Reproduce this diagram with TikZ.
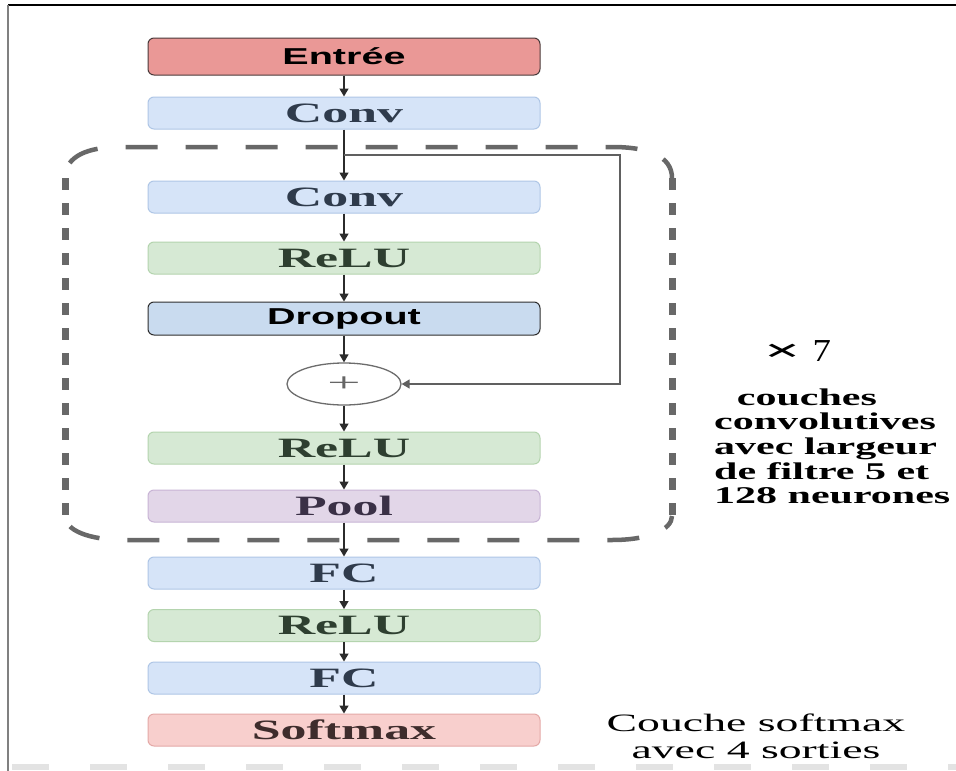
\documentclass[tikz,border=0pt]{standalone}
\usepackage{fontspec}
\setmainfont{Liberation Serif}
\newfontfamily\labelsans{Liberation Sans}
\usetikzlibrary{arrows.meta,shapes.geometric}

% layer colours
\definecolor{infill}{HTML}{EA9896}
\definecolor{inline}{HTML}{4A3A3A}
\definecolor{convfill}{HTML}{D6E4F8}
\definecolor{convline}{HTML}{AFC6E6}
\definecolor{convtext}{HTML}{2F3B4C}
\definecolor{relufill}{HTML}{D6E9D4}
\definecolor{reluline}{HTML}{B4D4AE}
\definecolor{relutext}{HTML}{2E3F30}
\definecolor{dropfill}{HTML}{C9DBEF}
\definecolor{dropline}{HTML}{2E2E2E}
\definecolor{poolfill}{HTML}{E2D6E8}
\definecolor{poolline}{HTML}{C8B4D5}
\definecolor{pooltext}{HTML}{3A3046}
\definecolor{softfill}{HTML}{F8CFCD}
\definecolor{softline}{HTML}{E4A9A7}
\definecolor{softtext}{HTML}{3E2C2C}
\definecolor{flowcol}{HTML}{2B2B2B}
\definecolor{groupcol}{HTML}{686868}

% wide bold labels
\newcommand{\wlabel}[1]{\scalebox{1.85}[1]{\fontsize{28}{28}\selectfont\bfseries #1}}
\newcommand{\wsans}[1]{\scalebox{1.72}[1]{\fontsize{23}{23}\selectfont\labelsans\bfseries #1}}

\tikzset{
  layer/.style={rectangle, rounded corners=6pt, minimum width=392pt,
    minimum height=32pt, inner sep=0pt, line width=1pt},
  inbox/.style={layer, fill=infill, draw=inline, text=black, minimum height=37pt},
  convbox/.style={layer, fill=convfill, draw=convline, text=convtext},
  relubox/.style={layer, fill=relufill, draw=reluline, text=relutext},
  dropbox/.style={layer, fill=dropfill, draw=dropline, text=black, minimum height=33pt},
  poolbox/.style={layer, fill=poolfill, draw=poolline, text=pooltext},
  softbox/.style={layer, fill=softfill, draw=softline, text=softtext},
  addnode/.style={ellipse, draw=gray!85!black, line width=1.3pt, fill=white,
    minimum width=114pt, minimum height=42pt, inner sep=0pt, text=gray!80!black},
  flow/.style={draw=flowcol, line width=1.4pt, -{Triangle[length=8pt,width=9pt]}},
  skipline/.style={draw=gray!75!black, line width=1.4pt, -{Triangle[length=8pt,width=9pt]}},
  grouph/.style={draw=groupcol, line width=4.5pt, dash pattern=on 32pt off 28pt},
  groupv/.style={draw=groupcol, line width=7pt, dash pattern=on 12pt off 13pt},
}

\begin{document}
\begin{tikzpicture}[x=1pt, y=-1pt]
\useasboundingbox (0,0) rectangle (956,771);
\fill[white] (0,0) rectangle (956,771);

% frame
\draw[black, line width=2pt] (8,5) -- (956,5);
\draw[gray, line width=2pt] (8,5) -- (8,771);
\draw[gray!22, line width=6pt, dash pattern=on 37pt off 41pt] (12,767) -- (956,767);

% repeated block outline
\draw[grouph, dash phase=44pt]
  (65,178) .. controls (65,156) and (88,147) .. (120,147) -- (612,147)
  .. controls (648,147) and (672,156) .. (672,178);
\draw[grouph, dash phase=48pt]
  (65,516) .. controls (65,530) and (88,540) .. (125,540) -- (612,540)
  .. controls (648,540) and (672,530) .. (672,516);
\draw[groupv] (65,178) -- (65,516);
\draw[groupv] (672,178) -- (672,516);

% layers
\node[inbox]   (entree) at (344,56.5) {\wsans{Entrée}};
\node[convbox] (conv1)  at (344,113)  {\wlabel{Conv}};
\node[convbox] (conv2)  at (344,197)  {\wlabel{Conv}};
\node[relubox] (relu1)  at (344,258)  {\wlabel{ReLU}};
\node[dropbox] (drop)   at (344,318.5) {\wsans{Dropout}};
\node[addnode] (plus)   at (344,384)  {\scalebox{2.3}[1]{\fontsize{26}{26}\selectfont +}};
\node[relubox] (relu2)  at (344,448)  {\wlabel{ReLU}};
\node[poolbox] (pool)   at (344,506)  {\wlabel{Pool}};
\node[convbox] (fc1)    at (344,573)  {\wlabel{FC}};
\node[relubox] (relu3)  at (344,625.5) {\wlabel{ReLU}};
\node[convbox] (fc2)    at (344,678)  {\wlabel{FC}};
\node[softbox] (soft)   at (344,730)  {\wlabel{Softmax}};

% main flow
\draw[flow] (entree) -- (conv1);
\draw[flow] (conv1) -- (conv2);
\draw[flow] (conv2) -- (relu1);
\draw[flow] (relu1) -- (drop);
\draw[flow] (drop) -- (plus);
\draw[flow] (plus) -- (relu2);
\draw[flow] (relu2) -- (pool);
\draw[flow] (pool) -- (fc1);
\draw[flow] (fc1) -- (relu3);
\draw[flow] (relu3) -- (fc2);
\draw[flow] (fc2) -- (soft);

% residual connection
\coordinate (split) at (344,155);
\coordinate (sk1) at (620,155);
\coordinate (sk2) at (620,384);
\draw[skipline] (split) -- (sk1) -- (sk2) -- (plus.east);

% annotations
\node[anchor=base west, inner sep=0pt] (rep) at (764,361)
  {\fontsize{32}{32}\selectfont\scalebox{2.0}[1]{\bfseries ×}\hspace{12pt}\scalebox{1.15}[1]{7}};
\node[anchor=base west, inner sep=0pt] (repdesc) at (714,405)
  {\scalebox{1.75}[1]{\fontsize{24}{24.7}\selectfont\bfseries
   \begin{tabular}[t]{@{}l@{}}
   \hspace*{13pt}couches\\
   convolutives\\
   avec largeur\\
   de filtre 5 et\\
   128 neurones
   \end{tabular}}};
\node[anchor=base, inner sep=0pt] (softdesc) at (756,731)
  {\scalebox{1.83}[1]{\fontsize{25}{27}\selectfont
   \begin{tabular}[t]{@{}c@{}}
   Couche softmax\\
   avec 4 sorties
   \end{tabular}}};
\end{tikzpicture}
\end{document}
